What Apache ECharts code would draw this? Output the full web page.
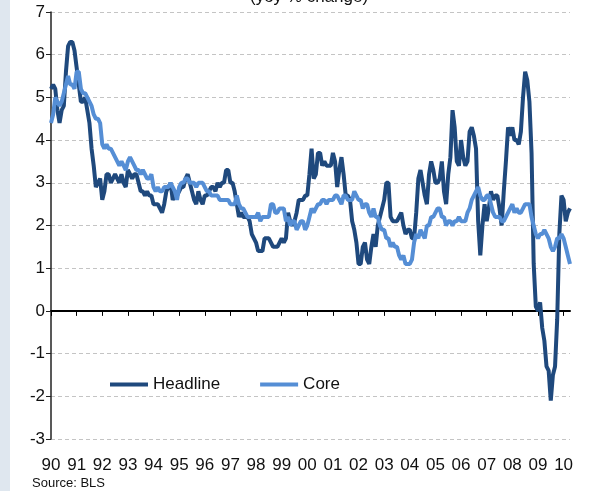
<!DOCTYPE html>
<html>
<head>
<meta charset="UTF-8">
<title>CPI inflation</title>
<script src="https://cdn.jsdelivr.net/npm/echarts@6/dist/echarts.min.js"></script>
<style>
html, body { margin: 0; padding: 0; background: #fff; }
#main { width: 590px; height: 491px; }
</style>
</head>
<body>
<div id="main"></div>
<script>
// yoy % change, monthly Jan 1990 - Apr 2010
var yearLabels = ['90','91','92','93','94','95','96','97','98','99','00','01','02','03','04','05','06','07','08','09','10'];

var headline = [
  5.2, 5.3, 5.2, 4.7, 4.4, 4.7, 4.8, 5.6, 6.2, 6.3, 6.3, 6.1,
  5.7, 5.3, 4.9, 4.9, 5.0, 4.7, 4.4, 3.8, 3.4, 2.9, 3.0, 3.1,
  2.6, 2.8, 3.2, 3.2, 3.0, 3.1, 3.2, 3.1, 3.0, 3.2, 3.0, 2.9,
  3.3, 3.2, 3.1, 3.2, 3.2, 3.0, 2.8, 2.8, 2.7, 2.8, 2.7, 2.7,
  2.5, 2.5, 2.5, 2.4, 2.3, 2.5, 2.8, 2.9, 3.0, 2.6, 2.7, 2.7,
  2.8, 2.9, 2.9, 3.1, 3.2, 3.0, 2.8, 2.6, 2.5, 2.8, 2.6, 2.5,
  2.7, 2.7, 2.8, 2.9, 2.9, 2.8, 3.0, 2.9, 3.0, 3.0, 3.3, 3.3,
  3.0, 3.0, 2.8, 2.5, 2.2, 2.3, 2.2, 2.2, 2.2, 2.1, 1.8, 1.7,
  1.6, 1.4, 1.4, 1.4, 1.7, 1.7, 1.7, 1.6, 1.5, 1.5, 1.5, 1.6,
  1.7, 1.6, 1.7, 2.3, 2.1, 2.0, 2.1, 2.3, 2.6, 2.6, 2.6, 2.7,
  2.7, 3.2, 3.8, 3.1, 3.2, 3.7, 3.7, 3.4, 3.5, 3.4, 3.4, 3.4,
  3.7, 3.5, 2.9, 3.3, 3.6, 3.2, 2.7, 2.7, 2.6, 2.1, 1.9, 1.6,
  1.1, 1.1, 1.5, 1.6, 1.2, 1.1, 1.5, 1.8, 1.5, 2.0, 2.2, 2.4,
  2.6, 3.0, 3.0, 2.2, 2.1, 2.1, 2.1, 2.2, 2.3, 2.0, 1.8, 1.9,
  1.9, 1.7, 1.7, 2.3, 3.1, 3.3, 3.0, 2.7, 2.5, 3.2, 3.5, 3.3,
  3.0, 3.0, 3.1, 3.5, 2.8, 2.5, 3.2, 3.6, 4.7, 4.3, 3.5, 3.4,
  4.0, 3.6, 3.4, 3.5, 4.2, 4.3, 4.1, 3.8, 2.1, 1.3, 2.0, 2.5,
  2.1, 2.4, 2.8, 2.6, 2.7, 2.7, 2.4, 2.0, 2.8, 3.5, 4.3, 4.1,
  4.3, 4.0, 4.0, 3.9, 4.2, 5.0, 5.6, 5.4, 4.9, 3.7, 1.1, 0.1,
  0.0, 0.2, -0.4, -0.7, -1.3, -1.4, -2.1, -1.5, -1.3, -0.2, 1.8, 2.7,
  2.6, 2.1, 2.3, 2.4
];

var core = [
  4.4, 4.6, 5.0, 4.9, 4.8, 4.9, 5.1, 5.3, 5.5, 5.3, 5.3, 5.2,
  5.6, 5.6, 5.2, 5.1, 5.1, 5.0, 4.9, 4.8, 4.6, 4.5, 4.5, 4.4,
  3.9, 3.8, 3.9, 3.8, 3.8, 3.7, 3.6, 3.5, 3.4, 3.5, 3.4, 3.3,
  3.5, 3.6, 3.5, 3.4, 3.3, 3.3, 3.2, 3.3, 3.2, 3.1, 3.1, 3.2,
  2.9, 2.8, 2.9, 2.8, 2.8, 2.9, 2.9, 2.9, 3.0, 2.9, 2.8, 2.6,
  2.9, 3.0, 3.0, 3.1, 3.1, 3.0, 3.0, 3.0, 2.9, 3.0, 3.0, 3.0,
  2.9, 2.8, 2.8, 2.7, 2.7, 2.7, 2.7, 2.6, 2.6, 2.6, 2.6, 2.6,
  2.5, 2.5, 2.5, 2.7, 2.5, 2.4, 2.4, 2.3, 2.2, 2.2, 2.2, 2.2,
  2.2, 2.3, 2.1, 2.2, 2.2, 2.2, 2.2, 2.5, 2.5, 2.3, 2.3, 2.4,
  2.4, 2.4, 2.1, 2.2, 2.0, 2.1, 2.1, 1.9, 2.0, 2.1, 2.1, 1.9,
  2.0, 2.2, 2.4, 2.3, 2.4, 2.5, 2.5, 2.6, 2.6, 2.5, 2.6, 2.6,
  2.6, 2.7, 2.7, 2.6, 2.5, 2.7, 2.7, 2.6, 2.6, 2.6, 2.8, 2.7,
  2.6, 2.6, 2.4, 2.5, 2.5, 2.3, 2.2, 2.4, 2.2, 2.2, 2.0, 1.9,
  1.9, 1.7, 1.7, 1.5, 1.6, 1.5, 1.5, 1.3, 1.2, 1.3, 1.1, 1.1,
  1.1, 1.2, 1.6, 1.8, 1.7, 1.9, 1.8, 1.7, 2.0, 2.0, 2.2, 2.2,
  2.3, 2.4, 2.4, 2.2, 2.2, 2.0, 2.1, 2.1, 2.0, 2.1, 2.1, 2.2,
  2.1, 2.1, 2.1, 2.3, 2.4, 2.6, 2.7, 2.8, 2.9, 2.7, 2.6, 2.6,
  2.7, 2.7, 2.5, 2.3, 2.2, 2.2, 2.2, 2.1, 2.1, 2.2, 2.3, 2.4,
  2.5, 2.3, 2.4, 2.3, 2.3, 2.4, 2.5, 2.5, 2.5, 2.2, 2.0, 1.8,
  1.7, 1.8, 1.8, 1.9, 1.8, 1.7, 1.5, 1.4, 1.5, 1.7, 1.7, 1.8,
  1.7, 1.5, 1.3, 1.1
];

var months = [];
for (var i = 0; i < headline.length; i++) {
  months.push((1990 + Math.floor(i / 12)) + '-' + (i % 12 + 1));
}

var font = 'Liberation Sans, Arial, sans-serif';
var everyYear = function (i) { return i % 12 === 0; };

var chart = echarts.init(document.getElementById('main'));
chart.setOption({
  animation: false,
  backgroundColor: '#fff',
  textStyle: { fontFamily: font },
  title: {
    text: '(yoy % change)',
    left: 245,
    top: -16,
    textStyle: { fontSize: 17, fontWeight: 'normal', color: '#111', fontFamily: font }
  },
  legend: {
    left: 105,
    top: 371,
    icon: 'rect',
    itemWidth: 38,
    itemHeight: 4,
    itemGap: 40,
    textStyle: { fontSize: 17, color: '#111', fontFamily: font },
    data: ['Headline', 'Core']
  },
  grid: { left: 51, right: 20, top: 12, bottom: 52, containLabel: false },
  xAxis: [
    {
      type: 'category',
      data: months,
      boundaryGap: false,
      axisLine: { onZero: true, lineStyle: { color: '#000', width: 2 } },
      axisTick: { interval: everyYear, length: 5, lineStyle: { color: '#000', width: 1 } },
      axisLabel: { show: false },
      splitLine: { show: false }
    },
    {
      type: 'category',
      data: months,
      position: 'bottom',
      boundaryGap: false,
      axisLine: { show: false, onZero: false },
      axisTick: { show: false },
      axisLabel: {
        interval: everyYear,
        margin: 18,
        fontSize: 17,
        color: '#111',
        fontFamily: font,
        formatter: function (v, idx) { return yearLabels[idx / 12]; }
      },
      splitLine: { show: false }
    }
  ],
  yAxis: {
    type: 'value',
    min: -3,
    max: 7,
    interval: 1,
    axisLine: { show: true, lineStyle: { color: '#222', width: 1.5 } },
    axisTick: { show: true, length: 5, lineStyle: { color: '#222' } },
    axisLabel: { fontSize: 17, color: '#111', margin: 6, fontFamily: font },
    splitLine: { show: true, lineStyle: { color: '#c4c4c4', type: [4, 3], width: 1 } }
  },
  graphic: [
    { type: 'rect', left: 0, top: 0, z: -10, shape: { width: 10, height: 491 }, style: { fill: '#dfe7ef' } },
    { type: 'text', left: 32, top: 477, style: { text: 'Source: BLS', fontSize: 13, fill: '#111', fontFamily: font } }
  ],
  series: [
    {
      name: 'Headline',
      type: 'line',
      data: headline,
      showSymbol: false,
      color: '#1f497d',
      lineStyle: { width: 4, color: '#1f497d' }
    },
    {
      name: 'Core',
      type: 'line',
      data: core,
      showSymbol: false,
      color: '#558ed5',
      lineStyle: { width: 4, color: '#558ed5' }
    }
  ]
});
</script>
</body>
</html>
